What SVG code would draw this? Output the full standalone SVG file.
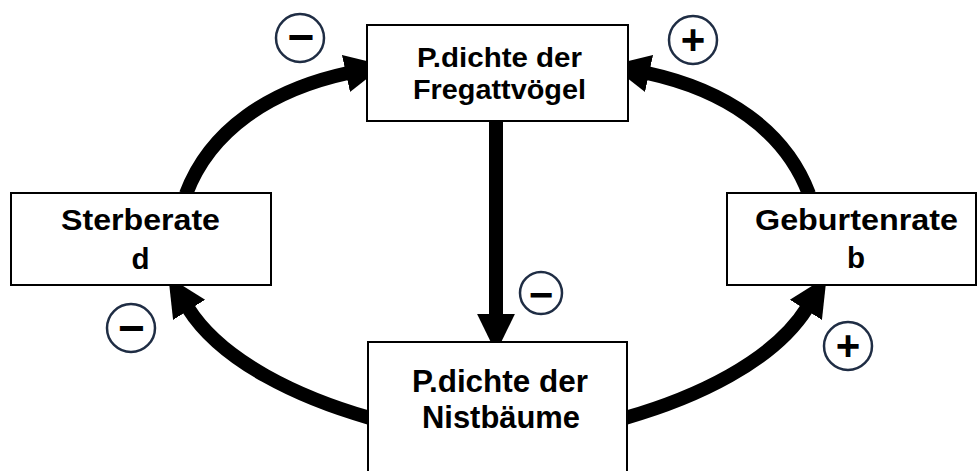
<svg xmlns="http://www.w3.org/2000/svg" width="978" height="471" viewBox="0 0 978 471">
<defs>
<marker id="head" markerUnits="userSpaceOnUse" markerWidth="40" markerHeight="40" viewBox="0 0 38 38" refX="2" refY="19" orient="auto">
<path d="M0,1 L37,19 L0,37 z" fill="#000"/>
</marker>
<style>
.box{fill:#fff;stroke:#000;stroke-width:2}
.lbl{font-family:"Liberation Sans",Arial,sans-serif;font-weight:bold;fill:#000;text-anchor:middle}
.arr{fill:none;stroke:#000;stroke-width:14;marker-end:url(#head)}
.sig{fill:#fff;stroke:#1f2d44;stroke-width:2.5}
.sg{font-family:"Liberation Sans",Arial,sans-serif;font-weight:bold;fill:#000;text-anchor:middle}
</style>
</defs>
<rect width="978" height="471" fill="#fff"/>
<g id="connectors">
<path class="arr" d="M186 194 C210 130 270 90 348 73"/>
<path class="arr" d="M809 194 C785 130 725 90 647 73"/>
<path class="arr" d="M370 418 C300 398 222 362 188 308"/>
<path class="arr" d="M625 418 C695 398 773 362 807 308"/>
<path class="arr" d="M496 122 L496 316"/>
</g>
<g id="node-fregatt">
<rect class="box" x="367" y="25" width="261" height="96"/>
<text class="lbl" x="499.5" y="67" font-size="28.5" textLength="165" lengthAdjust="spacingAndGlyphs">P.dichte der</text>
<text class="lbl" x="499.5" y="99" font-size="28.5" textLength="173" lengthAdjust="spacingAndGlyphs">Fregattvögel</text>
</g>
<g id="node-sterberate">
<rect class="box" x="11" y="193" width="260" height="92"/>
<text class="lbl" x="140.5" y="230" font-size="29.5" textLength="159" lengthAdjust="spacingAndGlyphs">Sterberate</text>
<text class="lbl" x="140.5" y="269" font-size="29.5">d</text>
</g>
<g id="node-geburtenrate">
<rect class="box" x="727" y="193" width="249" height="92"/>
<text class="lbl" x="856.5" y="230" font-size="29.5" textLength="203" lengthAdjust="spacingAndGlyphs">Geburtenrate</text>
<text class="lbl" x="856" y="268" font-size="29.5">b</text>
</g>
<g id="node-nistbaeume">
<rect class="box" x="368" y="342" width="259" height="140"/>
<text class="lbl" x="500" y="392" font-size="30.5" textLength="176" lengthAdjust="spacingAndGlyphs">P.dichte der</text>
<text class="lbl" x="501" y="428" font-size="30.5" textLength="158" lengthAdjust="spacingAndGlyphs">Nistbäume</text>
</g>
<g id="sign-top-left">
<circle class="sig" cx="300" cy="38" r="24"/>
<text class="sg" x="301" y="53" font-size="46">−</text>
</g>
<g id="sign-top-right">
<circle class="sig" cx="693" cy="40" r="24"/>
<text class="sg" x="693" y="54" font-size="42">+</text>
</g>
<g id="sign-left">
<circle class="sig" cx="131" cy="328" r="24"/>
<text class="sg" x="131.5" y="344" font-size="46">−</text>
</g>
<g id="sign-right">
<circle class="sig" cx="848" cy="346" r="24"/>
<text class="sg" x="848" y="360" font-size="42">+</text>
</g>
<g id="sign-center">
<circle class="sig" cx="541" cy="293" r="21"/>
<text class="sg" x="541" y="309" font-size="42">−</text>
</g>
</svg>
